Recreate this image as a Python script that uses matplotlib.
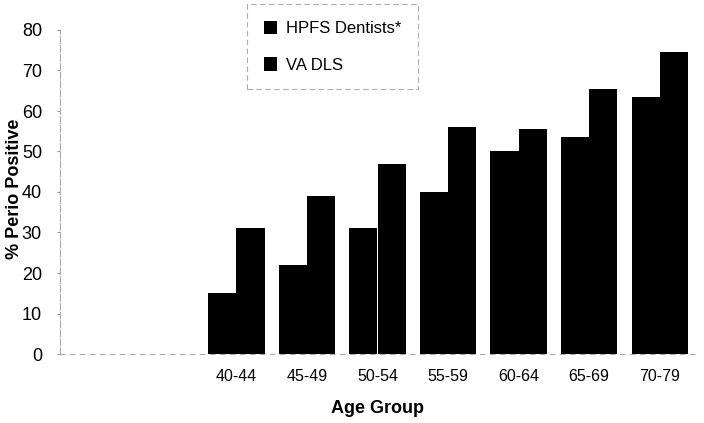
import numpy as np
import matplotlib
matplotlib.use('Agg')
import matplotlib.pyplot as plt

plt.rcParams['font.family'] = ['Liberation Sans', 'DejaVu Sans']

# age groups (first two slots are empty in the original)
age_groups = ['', '', '40-44', '45-49', '50-54', '55-59', '60-64', '65-69', '70-79']
hpfs = [0, 0, 15, 22, 31, 40, 50, 53.5, 63.5]
va_dls = [0, 0, 31, 39, 47, 56, 55.5, 65.5, 74.5]
yticks = [0, 10, 20, 30, 40, 50, 60, 70, 80]

fig = plt.figure(figsize=(7.04, 4.23), dpi=100)
ax = fig.add_axes([60/704, 1-354/423, 635/704, 324/423])

x = np.arange(len(age_groups))
w = 0.4
b1 = ax.bar(x - w/2, hpfs, w, color='black', label='HPFS Dentists*')
b2 = ax.bar(x + w/2, va_dls, w, color='black', label='VA DLS')

ax.set_xlim(-0.5, len(age_groups) - 0.5)
ax.set_ylim(0, 80)
ax.set_yticks(yticks)
ax.set_xticks(x)
ax.set_xticklabels(age_groups, fontsize=11.5)
ax.tick_params(axis='y', labelsize=13, length=2, color='#999999', pad=11)
ax.tick_params(axis='x', length=0, pad=11)

for s in ['top', 'right']:
    ax.spines[s].set_visible(False)
ax.spines['left'].set_color('#aaaaaa')
ax.spines['left'].set_linestyle((0, (6, 2)))
ax.spines['left'].set_linewidth(0.8)
ax.spines['bottom'].set_color('#aaaaaa')
ax.spines['bottom'].set_linestyle((0, (4, 5)))
ax.spines['bottom'].set_linewidth(0.8)

ax.set_xlabel('Age Group', fontsize=13, fontweight='bold', labelpad=11)
ax.set_ylabel('% Perio Positive', fontsize=13, fontweight='bold')
ax.yaxis.set_label_coords(-37/635, 0.51)

leg = fig.legend(handles=[b1, b2], loc='upper left', bbox_to_anchor=(247/704, 1 - 4/423),
                 fontsize=12, frameon=True, fancybox=False, handlelength=0.8, handleheight=0.9,
                 labelspacing=1.25, borderpad=1.0, handletextpad=0.55, borderaxespad=0)
frame = leg.get_frame()
frame.set_edgecolor('#999999')
frame.set_linestyle((0, (5, 3)))
frame.set_linewidth(0.8)

fig.savefig('out.png', dpi=100)
